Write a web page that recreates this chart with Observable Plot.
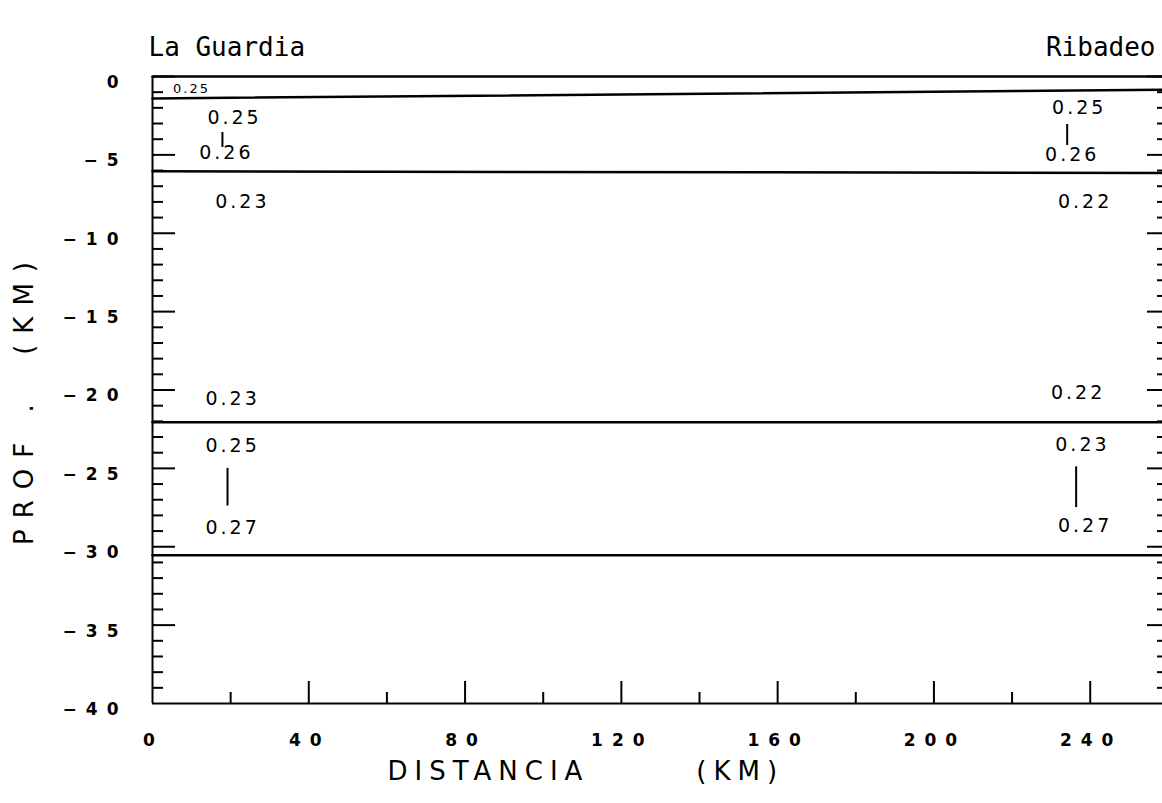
<!DOCTYPE html>
<html><head><meta charset="utf-8">
<script src="https://cdn.jsdelivr.net/npm/d3@7"></script>
<script src="https://cdn.jsdelivr.net/npm/@observablehq/plot@0.6"></script>
<style>
html,body{margin:0;padding:0;background:#fff;}
#chart svg{display:block;}
g[aria-label="x-axis tick label"] text, g[aria-label="y-axis tick label"] text{letter-spacing:9px;}
g[aria-description="layer values"] text{letter-spacing:3px;}
g[aria-description="top value"] text{letter-spacing:2px;}
g[aria-description="x title"] text{letter-spacing:7px;}
g[aria-description="y title"] text{letter-spacing:11px;}
</style>
</head><body><div id="chart"></div>
<script>
// Layer boundaries (depth in km) at the two ends of the profile
const profileEndsKm = [0, 258.5];
const boundaryDepthStart = [0, -1.4, -6.05, -22.05, -30.55];
const boundaryDepthEnd   = [0, -0.85, -6.15, -22.05, -30.55];

// Value labels inside the layers
const valueText  = ["0.25", "0.25", "0.26", "0.23", "0.23", "0.25", "0.27",
                    "0.25", "0.26", "0.22", "0.22", "0.23", "0.27"];
const valueKm    = [10.0, 21.0, 18.9, 23.0, 20.5, 20.5, 20.5,
                    237.2, 235.4, 238.7, 236.9, 238.0, 238.7];
const valueDepth = [-0.77, -2.62, -4.9, -8.0, -20.55, -23.55, -28.8,
                    -1.98, -4.98, -8.0, -20.2, -23.5, -28.7];
const valueSmall = [true, false, false, false, false, false, false,
                    false, false, false, false, false, false];

// Vertical gradient markers
const gradKm     = [17.9, 19.2, 234.1, 236.4];
const gradTop    = [-3.57, -25.0, -3.06, -24.9];
const gradBottom = [-4.53, -27.4, -4.4, -27.5];

// Axes
const xTickLabels = [0, 40, 80, 120, 160, 200, 240];
const xMajorTicks = [40, 80, 120, 160, 200, 240];
const xMinorTicks = [20, 60, 100, 140, 180, 220];
const yTickLabels = [0, -5, -10, -15, -20, -25, -30, -35, -40];
const yMajorTicks = [0, -5, -10, -15, -20, -25, -30, -35];
const yMinorTicks = d3.range(-39, 0, 1).filter(d => d % 5 !== 0);

const leftTitle = "La Guardia";
const rightTitle = "Ribadeo";
const xTitle = "DISTANCIA" + "\u00a0".repeat(7) + "(KM)";
const yTitle = "PROF\u00a0." + "\u00a0".repeat(2) + "(KM)";

const lines = [];
boundaryDepthStart.forEach((d, i) => {
  lines.push({id: i, km: profileEndsKm[0], depth: d});
  lines.push({id: i, km: profileEndsKm[1], depth: boundaryDepthEnd[i]});
});
const values = valueText.map((t, i) => ({text: t, km: valueKm[i], depth: valueDepth[i], small: valueSmall[i]}));
const grads = gradKm.map((k, i) => ({km: k, top: gradTop[i], bottom: gradBottom[i]}));

const tickFont = {fontFamily: "DejaVu Sans", fontWeight: "bold", fontSize: 17};

const chart = Plot.plot({
  width: 1162, height: 803,
  marginLeft: 152, marginRight: 0, marginTop: 76, marginBottom: 100,
  x: {domain: [0, 258.5], label: null},
  y: {domain: [-40, 0], label: null},
  style: {background: "#fff", color: "#000", fontFamily: "DejaVu Sans"},
  marks: [
    // frame lines (left and bottom axes)
    Plot.ruleX([0], {y1: -40, y2: 0, strokeWidth: 2}),
    Plot.ruleY([-40], {x1: 0, x2: 258.5, strokeWidth: 2}),
    // boundaries
    Plot.line(lines, {x: "km", y: "depth", z: "id", stroke: "#000", strokeWidth: 2.5}),
    // gradient markers
    Plot.ruleX(grads, {x: "km", y1: "top", y2: "bottom", strokeWidth: 2}),
    // value labels
    Plot.text(values.filter(d => !d.small), {x: "km", y: "depth", text: "text",
      fontSize: 19, fontFamily: "DejaVu Sans", ariaDescription: "layer values"}),
    Plot.text(values.filter(d => d.small), {x: "km", y: "depth", text: "text",
      fontSize: 13, fontFamily: "DejaVu Sans", ariaDescription: "top value"}),
    // left axis ticks (inward)
    Plot.axisY(yMinorTicks, {anchor: "right", frameAnchor: "left", tickSize: 10, fill: "none", strokeWidth: 2, label: null}),
    Plot.axisY(yMajorTicks, {anchor: "right", frameAnchor: "left", tickSize: 22, fill: "none", strokeWidth: 2, label: null}),
    // right axis ticks (inward)
    Plot.axisY(yMinorTicks, {anchor: "left", frameAnchor: "right", tickSize: 5, fill: "none", strokeWidth: 2, label: null}),
    Plot.axisY(yMajorTicks, {anchor: "left", frameAnchor: "right", tickSize: 15, fill: "none", strokeWidth: 2, label: null}),
    // bottom axis ticks (inward)
    Plot.axisX(xMinorTicks, {anchor: "top", frameAnchor: "bottom", tickSize: 12, fill: "none", strokeWidth: 2, label: null}),
    Plot.axisX(xMajorTicks, {anchor: "top", frameAnchor: "bottom", tickSize: 23, fill: "none", strokeWidth: 2, label: null}),
    // tick labels
    Plot.axisY(yTickLabels, {anchor: "left", tickSize: 0, tickPadding: 25, dy: 6, label: null, ...tickFont}),
    Plot.axisX(xTickLabels, {anchor: "bottom", tickSize: 0, tickPadding: 30, dx: 1, label: null, ...tickFont}),
    // axis titles
    Plot.text([xTitle], {frameAnchor: "bottom-left", textAnchor: "start", dx: 235, dy: 76, text: d => d,
      fontSize: 26, fontFamily: "DejaVu Sans", ariaDescription: "x title"}),
    Plot.text([yTitle], {frameAnchor: "left", textAnchor: "middle", dx: -128, dy: 8, rotate: -90, text: d => d,
      fontSize: 26, fontFamily: "DejaVu Sans", ariaDescription: "y title"}),
    // place names
    Plot.text([leftTitle], {frameAnchor: "top-left", dx: -4, dy: -39, text: d => d, textAnchor: "start",
      fontSize: 26, fontFamily: "DejaVu Sans Mono"}),
    Plot.text([rightTitle], {frameAnchor: "top-right", dx: -7, dy: -39, text: d => d, textAnchor: "end",
      fontSize: 26, fontFamily: "DejaVu Sans Mono"})
  ]
});
document.getElementById("chart").appendChild(chart);
</script>
</body></html>
